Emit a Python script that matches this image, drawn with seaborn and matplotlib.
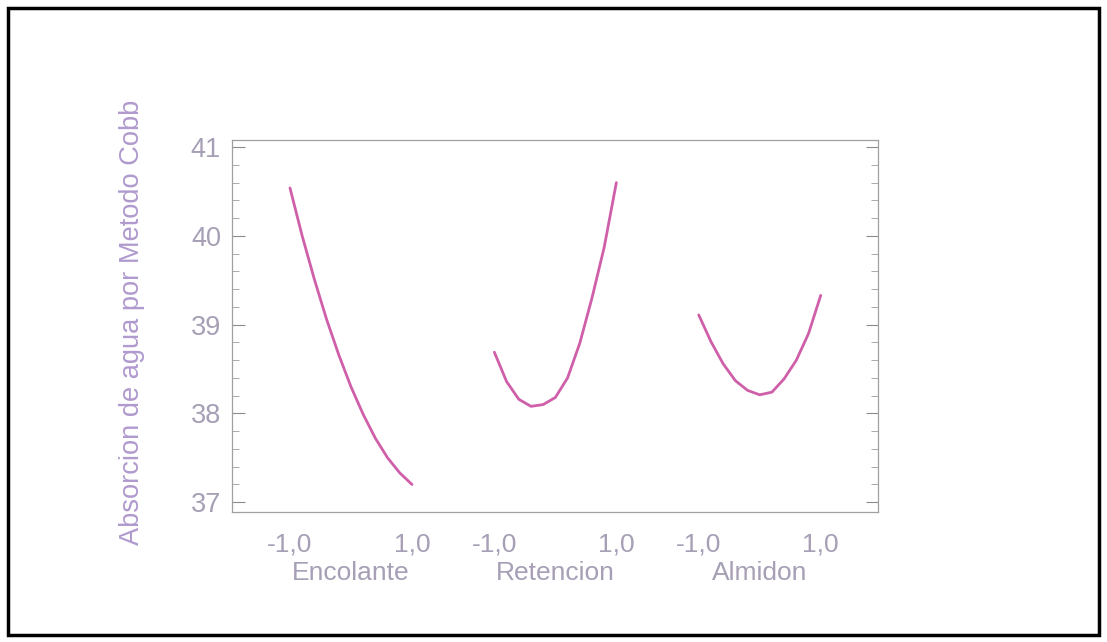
import matplotlib
matplotlib.use("Agg")
import matplotlib.pyplot as plt
from matplotlib.patches import Rectangle
from matplotlib.ticker import MultipleLocator
import numpy as np
import pandas as pd
import seaborn as sns

# niveles codificados de cada factor (-1 .. 1)
niveles = [-1.0, -0.8, -0.6, -0.4, -0.2, 0.0, 0.2, 0.4, 0.6, 0.8, 1.0]

# valores
encolante = [40.54, 40.00, 39.51, 39.06, 38.66, 38.30, 37.99, 37.72, 37.50, 37.33, 37.20]
retencion = [38.69, 38.36, 38.16, 38.08, 38.10, 38.18, 38.40, 38.79, 39.30, 39.87, 40.60]
almidon = [39.11, 38.81, 38.56, 38.37, 38.26, 38.21, 38.24, 38.39, 38.60, 38.90, 39.33]

factores = ["Encolante", "Retencion", "Almidon"]
etiquetas_x = ["-1,0", "1,0"]
titulo_y = "Absorcion de agua por Metodo Cobb"

color_linea = "#cf5fa9"
color_texto = "#a69fb5"
color_label = "#b09ace"

sns.set_style("ticks")
plt.rcParams["font.family"] = ["Liberation Sans", "DejaVu Sans"]

fig = plt.figure(figsize=(11.07, 6.42), dpi=100)
ax = fig.add_axes([0.2096, 0.2025, 0.5836, 0.5794])

# cada factor en su propio tramo del eje x
desplazamiento = 3.35
tablas = []
for k, (nombre, valores) in enumerate(zip(factores, [encolante, retencion, almidon])):
    tablas.append(pd.DataFrame({
        "x": np.array(niveles) + 1 + k * desplazamiento,
        "y": valores,
        "factor": nombre,
    }))
df = pd.concat(tablas)

sns.lineplot(data=df, x="x", y="y", hue="factor", units="factor", estimator=None,
             palette=[color_linea] * 3, linewidth=2.0, legend=False, ax=ax)
for linea in ax.get_lines():
    linea.set_solid_joinstyle("round")
    linea.set_solid_capstyle("round")

ax.set_xlim(-0.95, 9.64)
ax.set_ylim(36.89, 41.08)

# ticks del eje x: -1,0 y 1,0 en cada tramo
posiciones = []
rotulos = []
for k in range(3):
    posiciones += [k * desplazamiento, 2 + k * desplazamiento]
    rotulos += etiquetas_x
ax.set_xticks(posiciones)
ax.set_xticklabels(rotulos)
ax.tick_params(axis="x", length=0, pad=15, labelsize=19, labelcolor=color_texto)

for k, nombre in enumerate(factores):
    ax.text(1 + k * desplazamiento, -0.165, nombre, transform=ax.get_xaxis_transform(),
            ha="center", va="center", fontsize=19, color=color_texto)

ax.yaxis.set_major_locator(MultipleLocator(1))
ax.yaxis.set_minor_locator(MultipleLocator(0.2))
ax.tick_params(axis="y", which="major", direction="in", length=9, width=0.8,
               color="#8c8c8c", left=True, right=True, labelsize=19.5,
               labelcolor=color_texto, pad=8)
ax.tick_params(axis="y", which="minor", direction="in", length=5, width=0.6,
               color="#9c9c9c", left=True, right=True)

ax.set_xlabel("")
ax.set_ylabel(titulo_y, fontsize=19.6, color=color_label)
ax.yaxis.set_label_coords(-0.135, 0.51)

for lado in ["left", "right", "top", "bottom"]:
    ax.spines[lado].set_visible(True)
    ax.spines[lado].set_color("#a0a0a0")
    ax.spines[lado].set_linewidth(0.9)

# marco exterior
fig.patches.append(Rectangle((0.007, 0.011), 0.986, 0.977, transform=fig.transFigure,
                             fill=False, edgecolor="black", linewidth=2.5))

fig.savefig("out.png", dpi=100)
